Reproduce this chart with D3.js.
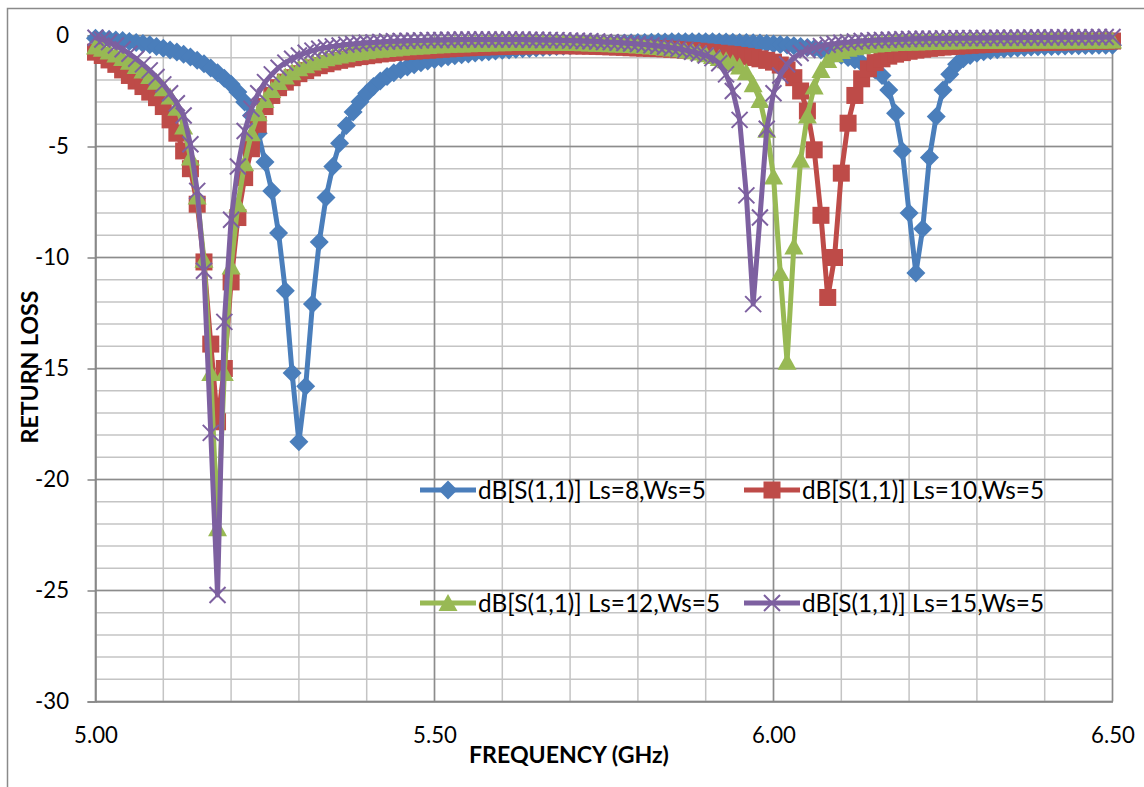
<!DOCTYPE html>
<html><head><meta charset="utf-8">
<script src="https://cdn.jsdelivr.net/npm/d3@7"></script>
<style>body{margin:0;background:#fff;} svg{display:block;}</style>
</head><body>
<svg id="chart" width="1144" height="787"></svg>
<script>
const freq = [
5.00,5.01,5.02,5.03,5.04,5.05,5.06,5.07,5.08,5.09,
5.10,5.11,5.12,5.13,5.14,5.15,5.16,5.17,5.18,5.19,
5.20,5.21,5.22,5.23,5.24,5.25,5.26,5.27,5.28,5.29,
5.30,5.31,5.32,5.33,5.34,5.35,5.36,5.37,5.38,5.39,
5.40,5.41,5.42,5.43,5.44,5.45,5.46,5.47,5.48,5.49,
5.50,5.51,5.52,5.53,5.54,5.55,5.56,5.57,5.58,5.59,
5.60,5.61,5.62,5.63,5.64,5.65,5.66,5.67,5.68,5.69,
5.70,5.71,5.72,5.73,5.74,5.75,5.76,5.77,5.78,5.79,
5.80,5.81,5.82,5.83,5.84,5.85,5.86,5.87,5.88,5.89,
5.90,5.91,5.92,5.93,5.94,5.95,5.96,5.97,5.98,5.99,
6.00,6.01,6.02,6.03,6.04,6.05,6.06,6.07,6.08,6.09,
6.10,6.11,6.12,6.13,6.14,6.15,6.16,6.17,6.18,6.19,
6.20,6.21,6.22,6.23,6.24,6.25,6.26,6.27,6.28,6.29,
6.30,6.31,6.32,6.33,6.34,6.35,6.36,6.37,6.38,6.39,
6.40,6.41,6.42,6.43,6.44,6.45,6.46,6.47,6.48,6.49,
6.50];

const ls8 = [
-0.12,-0.14,-0.17,-0.20,-0.23,-0.27,-0.31,-0.36,-0.42,-0.49,
-0.57,-0.65,-0.74,-0.85,-0.97,-1.11,-1.27,-1.46,-1.68,-1.93,
-2.20,-2.55,-3.00,-3.60,-4.40,-5.70,-7.00,-8.90,-11.50,-15.20,
-18.30,-15.80,-12.10,-9.30,-7.30,-5.90,-4.85,-4.05,-3.45,-2.98,
-2.60,-2.30,-2.05,-1.85,-1.68,-1.54,-1.42,-1.32,-1.23,-1.15,
-1.08,-1.02,-0.96,-0.91,-0.87,-0.83,-0.79,-0.76,-0.73,-0.70,
-0.67,-0.65,-0.62,-0.60,-0.58,-0.56,-0.54,-0.52,-0.50,-0.48,
-0.46,-0.44,-0.42,-0.41,-0.39,-0.38,-0.36,-0.35,-0.34,-0.33,
-0.32,-0.31,-0.30,-0.29,-0.29,-0.28,-0.28,-0.28,-0.28,-0.28,
-0.28,-0.28,-0.29,-0.29,-0.30,-0.31,-0.32,-0.33,-0.34,-0.36,
-0.38,-0.40,-0.43,-0.46,-0.50,-0.54,-0.59,-0.65,-0.72,-0.80,
-0.89,-0.99,-1.10,-1.23,-1.38,-1.55,-1.80,-2.45,-3.50,-5.20,
-8.00,-10.70,-8.70,-5.50,-3.65,-2.45,-1.75,-1.30,-1.05,-0.90,
-0.80,-0.73,-0.68,-0.64,-0.61,-0.58,-0.56,-0.54,-0.52,-0.51,
-0.50,-0.49,-0.48,-0.47,-0.46,-0.46,-0.45,-0.45,-0.44,-0.44,
-0.44];

const ls10 = [
-0.75,-0.90,-1.10,-1.30,-1.55,-1.80,-2.05,-2.30,-2.55,-2.80,
-3.20,-3.80,-4.40,-5.20,-6.00,-7.60,-10.20,-13.90,-17.40,-15.00,
-11.10,-8.20,-6.40,-5.10,-4.00,-3.20,-2.70,-2.35,-2.10,-1.90,
-1.72,-1.58,-1.46,-1.36,-1.27,-1.19,-1.12,-1.06,-1.00,-0.95,
-0.91,-0.87,-0.83,-0.80,-0.77,-0.74,-0.72,-0.70,-0.68,-0.66,
-0.64,-0.62,-0.60,-0.58,-0.56,-0.55,-0.53,-0.52,-0.51,-0.50,
-0.49,-0.48,-0.47,-0.47,-0.46,-0.46,-0.46,-0.46,-0.46,-0.46,
-0.46,-0.47,-0.47,-0.48,-0.49,-0.50,-0.51,-0.52,-0.53,-0.55,
-0.56,-0.57,-0.58,-0.59,-0.60,-0.62,-0.64,-0.66,-0.68,-0.71,
-0.74,-0.77,-0.80,-0.83,-0.86,-0.90,-0.94,-0.99,-1.05,-1.12,
-1.20,-1.33,-1.55,-1.90,-2.50,-3.40,-5.15,-8.10,-11.80,-10.00,
-6.20,-3.95,-2.70,-1.95,-1.50,-1.22,-1.05,-0.93,-0.84,-0.77,
-0.71,-0.66,-0.62,-0.58,-0.55,-0.52,-0.50,-0.48,-0.46,-0.44,
-0.42,-0.41,-0.39,-0.38,-0.37,-0.36,-0.35,-0.34,-0.33,-0.32,
-0.31,-0.30,-0.30,-0.29,-0.28,-0.28,-0.27,-0.27,-0.26,-0.26,
-0.25];

const ls12 = [
-0.50,-0.60,-0.72,-0.86,-1.01,-1.18,-1.37,-1.58,-1.82,-2.08,
-2.38,-2.75,-3.25,-4.10,-5.50,-7.25,-10.10,-15.20,-22.20,-15.20,
-10.40,-7.60,-5.75,-4.40,-3.50,-2.90,-2.45,-2.10,-1.85,-1.65,
-1.48,-1.34,-1.22,-1.12,-1.03,-0.96,-0.90,-0.84,-0.79,-0.75,
-0.71,-0.67,-0.64,-0.61,-0.58,-0.55,-0.53,-0.51,-0.49,-0.47,
-0.45,-0.44,-0.42,-0.41,-0.40,-0.39,-0.38,-0.37,-0.36,-0.35,
-0.35,-0.34,-0.34,-0.33,-0.33,-0.33,-0.33,-0.33,-0.33,-0.33,
-0.34,-0.34,-0.35,-0.36,-0.37,-0.38,-0.39,-0.40,-0.42,-0.43,
-0.45,-0.47,-0.49,-0.52,-0.55,-0.58,-0.62,-0.66,-0.71,-0.77,
-0.84,-0.92,-1.01,-1.12,-1.25,-1.40,-1.65,-2.20,-2.90,-4.25,
-6.35,-10.70,-14.70,-9.50,-5.60,-3.60,-2.30,-1.55,-1.10,-0.85,
-0.70,-0.60,-0.53,-0.48,-0.44,-0.41,-0.38,-0.36,-0.34,-0.33,
-0.32,-0.31,-0.30,-0.29,-0.28,-0.27,-0.27,-0.26,-0.26,-0.25,
-0.25,-0.25,-0.24,-0.24,-0.24,-0.24,-0.23,-0.23,-0.23,-0.23,
-0.23,-0.23,-0.23,-0.22,-0.22,-0.22,-0.22,-0.22,-0.22,-0.22,
-0.22];

const ls15 = [
-0.10,-0.18,-0.30,-0.45,-0.62,-0.82,-1.05,-1.30,-1.57,-1.87,
-2.20,-2.60,-3.05,-3.60,-4.90,-7.00,-10.60,-17.90,-25.20,-12.90,
-8.30,-5.90,-4.30,-3.30,-2.60,-2.10,-1.75,-1.45,-1.22,-1.05,
-0.90,-0.78,-0.68,-0.60,-0.54,-0.49,-0.45,-0.41,-0.38,-0.35,
-0.33,-0.31,-0.29,-0.27,-0.26,-0.25,-0.24,-0.23,-0.22,-0.21,
-0.20,-0.20,-0.19,-0.19,-0.18,-0.18,-0.18,-0.18,-0.18,-0.18,
-0.18,-0.18,-0.18,-0.18,-0.19,-0.19,-0.20,-0.20,-0.21,-0.22,
-0.23,-0.24,-0.25,-0.26,-0.27,-0.29,-0.30,-0.32,-0.34,-0.36,
-0.38,-0.41,-0.44,-0.47,-0.51,-0.55,-0.60,-0.66,-0.73,-0.81,
-0.90,-1.02,-1.25,-1.75,-2.50,-3.80,-7.20,-12.10,-8.20,-4.20,
-2.60,-1.80,-1.30,-1.00,-0.80,-0.66,-0.56,-0.48,-0.42,-0.37,
-0.33,-0.30,-0.27,-0.25,-0.23,-0.21,-0.20,-0.19,-0.18,-0.17,
-0.16,-0.15,-0.15,-0.14,-0.14,-0.13,-0.13,-0.12,-0.12,-0.12,
-0.11,-0.11,-0.11,-0.10,-0.10,-0.10,-0.10,-0.09,-0.09,-0.09,
-0.09,-0.09,-0.08,-0.08,-0.08,-0.08,-0.08,-0.08,-0.07,-0.07,
-0.07];

const seriesNames = ["dB[S(1,1)] Ls=8,Ws=5","dB[S(1,1)] Ls=10,Ws=5","dB[S(1,1)] Ls=12,Ws=5","dB[S(1,1)] Ls=15,Ws=5"];
const xTickValues = [5.0, 5.5, 6.0, 6.5];
const xTickLabels = ["5.00", "5.50", "6.00", "6.50"];
const yTickValues = [0, -5, -10, -15, -20, -25, -30];
const yTickLabels = ["0", "-5", "-10", "-15", "-20", "-25", "-30"];
const xTitle = "FREQUENCY (GHz)";
const yTitle = "RETURN LOSS";

const seriesValues = [ls8, ls10, ls12, ls15];
const colors = ["#4A7EBB", "#BE4B48", "#98B954", "#7D60A0"];
const markerTypes = ["diamond", "square", "triangle", "x"];

const FONT = "Lato, 'Open Sans', sans-serif";
const svg = d3.select("#chart");
const x = d3.scaleLinear().domain([5, 6.5]).range([95.5, 1112.5]);
const y = d3.scaleLinear().domain([-30, 0]).range([701.5, 35.5]);

// outer chart border
svg.append("rect").attr("x", 7.5).attr("y", 8.5).attr("width", 1170).attr("height", 820)
  .attr("fill", "none").attr("stroke", "#8a8a8a").attr("stroke-width", 1.5);

// minor grid
const grid = svg.append("g");
grid.selectAll("line.vmin").data(x.ticks(15)).join("line")
  .attr("x1", d => x(d)).attr("x2", d => x(d)).attr("y1", y(0)).attr("y2", y(-30))
  .attr("stroke", "#c4c4c4").attr("stroke-width", 1.5);
grid.selectAll("line.hmin").data(y.ticks(30)).join("line")
  .attr("x1", x(5)).attr("x2", x(6.5)).attr("y1", d => y(d)).attr("y2", d => y(d))
  .attr("stroke", "#c4c4c4").attr("stroke-width", 1.5);
// major grid
grid.selectAll("line.vmaj").data(xTickValues).join("line")
  .attr("x1", d => x(d)).attr("x2", d => x(d)).attr("y1", y(0)).attr("y2", y(-30))
  .attr("stroke", "#8c8c8c").attr("stroke-width", 1.5);
grid.selectAll("line.hmaj").data(yTickValues).join("line")
  .attr("x1", x(5)).attr("x2", x(6.5)).attr("y1", d => y(d)).attr("y2", d => y(d))
  .attr("stroke", "#8c8c8c").attr("stroke-width", 1.5);

// axes
const yAxis = svg.append("g").attr("transform", `translate(${x(5)},0)`)
  .call(d3.axisLeft(y).tickValues(yTickValues).tickSize(8).tickPadding(18.5)
    .tickFormat((d, i) => yTickLabels[i]));
const xAxis = svg.append("g").attr("transform", `translate(0,${y(-30)})`)
  .call(d3.axisBottom(x).tickValues(xTickValues).tickSize(0)
    .tickFormat((d, i) => xTickLabels[i]));
[yAxis, xAxis].forEach(a => {
  a.select(".domain").attr("stroke", "#868686").attr("stroke-width", 1.5);
  a.selectAll(".tick line").attr("stroke", "#868686").attr("stroke-width", 1.5);
  a.selectAll("text").attr("font-family", FONT).attr("font-size", 22).attr("fill", "#000");
});
// fit tick label size to reference width of "-30"
{
  const t = yAxis.selectAll("text").filter((d) => d === -30);
  const w = t.node().getComputedTextLength();
  const fs = 22 * 34 / w;
  yAxis.selectAll("text").attr("font-size", fs);
  xAxis.selectAll("text").attr("font-size", fs).attr("y", 41.5).attr("dy", 0);
}

// titles
const xt = svg.append("text").text(xTitle).attr("x", 569).attr("y", 763)
  .attr("text-anchor", "middle").attr("font-family", FONT).attr("font-weight", "bold")
  .attr("font-size", 20).attr("fill", "#000");
xt.attr("font-size", 20 * 200 / xt.node().getComputedTextLength());
const yt = svg.append("text").text(yTitle)
  .attr("transform", "translate(38,367) rotate(-90)")
  .attr("text-anchor", "middle").attr("font-family", FONT).attr("font-weight", "bold")
  .attr("font-size", 20).attr("fill", "#000");
yt.attr("font-size", 20 * 153 / yt.node().getComputedTextLength());

// markers
function marker(g, type, color) {
  if (type === "diamond") {
    g.append("path").attr("d", "M0,-9.5L9.5,0L0,9.5L-9.5,0Z").attr("fill", color);
  } else if (type === "square") {
    g.append("rect").attr("x", -8.5).attr("y", -8.5).attr("width", 17).attr("height", 17).attr("fill", color);
  } else if (type === "triangle") {
    g.append("path").attr("d", "M0,-9L9.5,8L-9.5,8Z").attr("fill", color);
  } else {
    g.append("path").attr("d", "M-8,-8L8,8M-8,8L8,-8").attr("stroke", color).attr("stroke-width", 2).attr("fill", "none");
  }
}

const line = d3.line().x(d => x(d[0])).y(d => y(d[1]));
seriesValues.forEach((vals, si) => {
  const pts = freq.map((f, i) => [f, vals[i]]);
  const g = svg.append("g");
  g.append("path").datum(pts).attr("d", line).attr("fill", "none")
    .attr("stroke", colors[si]).attr("stroke-width", 5).attr("stroke-linejoin", "round");
  g.selectAll("g.m").data(pts).join("g")
    .attr("transform", d => `translate(${x(d[0])},${y(d[1])})`)
    .each(function () { marker(d3.select(this), markerTypes[si], colors[si]); });
});

// legend
const legendPos = [[420, 490], [744, 490], [420, 603], [744, 603]];
let legendFs = null;
seriesNames.forEach((name, si) => {
  const [lx, ly] = legendPos[si];
  const g = svg.append("g").attr("transform", `translate(${lx},${ly})`);
  g.append("line").attr("x1", 0).attr("x2", 56).attr("y1", 0).attr("y2", 0)
    .attr("stroke", colors[si]).attr("stroke-width", 5);
  const mg = g.append("g").attr("transform", "translate(28,0)");
  marker(mg, markerTypes[si], colors[si]);
  const t = g.append("text").text(name).attr("x", 58).attr("y", 0).attr("dy", "0.36em")
    .attr("font-family", FONT).attr("font-size", 22).attr("fill", "#000");
  if (legendFs === null) legendFs = 22 * 228 / t.node().getComputedTextLength();
  t.attr("font-size", legendFs);
});
</script>
</body></html>
